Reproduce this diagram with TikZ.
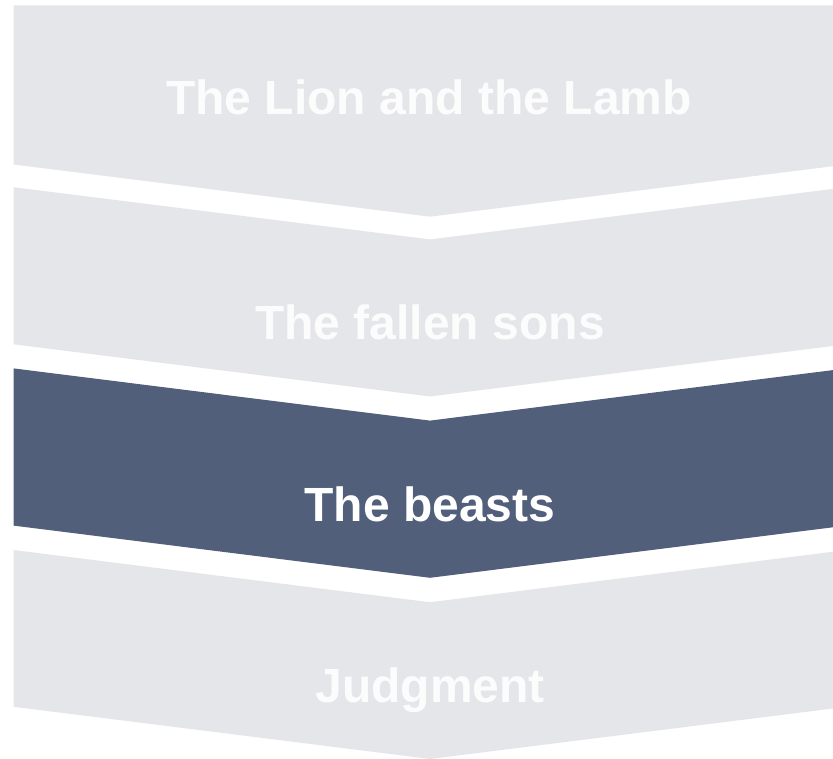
\documentclass[tikz,border=0pt]{standalone}
\usepackage{fontspec}
\setmainfont{Liberation Sans}
\definecolor{lightfill}{RGB}{229,230,234}
\definecolor{darkfill}{RGB}{81,95,122}
\definecolor{lighttext}{RGB}{252,252,253}
\begin{document}
\begin{tikzpicture}[x=1pt,y=-1pt,
  chevlight/.style={fill=lightfill,draw=none},
  chevdark/.style={fill=darkfill,draw=none},
  labeltext/.style={anchor=base,inner sep=0pt,font=\fontsize{48}{56}\selectfont\bfseries,text=lighttext},
  labeldark/.style={labeltext,text=white}]
\useasboundingbox (0,0) rectangle (833,759);
\clip (0,0) rectangle (833,759);
% shape 1 (flat top)
\fill[chevlight] (13.5,5.5) -- (846.5,5.5) -- (846.5,164.5) -- (430,216.7) -- (13.5,164.5) -- cycle;
% shape 2
\fill[chevlight] (13.5,187.2) -- (430,239.4) -- (846.5,187.2) -- (846.5,344.3) -- (430,396.5) -- (13.5,344.3) -- cycle;
% shape 3 (highlighted)
\fill[chevdark] (13.5,368.4) -- (430,420.6) -- (846.5,368.4) -- (846.5,525.6) -- (430,577.8) -- (13.5,525.6) -- cycle;
% shape 4
\fill[chevlight] (13.5,550) -- (430,602.2) -- (846.5,550) -- (846.5,706.8) -- (430,759) -- (13.5,706.8) -- cycle;
\node[labeltext] (t1) at (429,115) {The Lion and the Lamb};
\node[labeltext] (t2) at (430,340) {The fallen sons};
\node[labeldark] (t3) at (430,521.7) {The beasts};
\node[labeltext] (t4) at (430,702.3) {Judgment};
\end{tikzpicture}
\end{document}
